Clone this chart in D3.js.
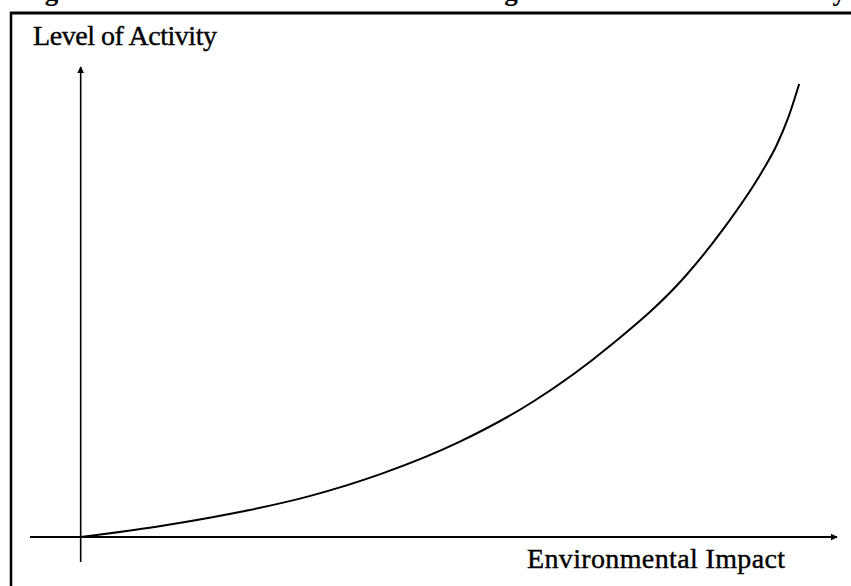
<!DOCTYPE html>
<html>
<head>
<meta charset="utf-8">
<script src="https://cdn.jsdelivr.net/npm/d3@7"></script>
<style>
  body { margin: 0; background: #fff; }
  svg { display: block; }
  text { font-family: "Liberation Serif", "Times New Roman", serif; fill: #000; }
</style>
</head>
<body>
<div id="graph"></div>
<script>
// curve (arbitrary units, 0..100 on each axis)
const impact   = [0, 10, 20, 30, 40, 50, 60, 70, 80, 85, 90, 92, 93.5, 95];
const activity = [0, 2.2, 5.0, 8.6, 13.6, 20.2, 29.0, 40.7, 55.6, 65.6, 77.5, 83.3, 89.0, 96.4];

const xLabel = "Environmental Impact";
const yLabel = "Level of Activity";
const title = "Figure 1: The Environmental Rating of the Level of Activity";

const w = 851;
const h = 586;

const svg = d3
  .select("#graph")
  .append("svg")
  .attr("width", w)
  .attr("height", h);

// axes run a little past the origin, like the hand-drawn figure
const x = d3.scaleLinear().domain([-6.7, 100]).range([30, 837]);
const y = d3.scaleLinear().domain([-5.3, 100]).range([562, 67]);

// title, cut off at the top of the crop (only the descenders show)
svg
  .append("text")
  .attr("x", 16)
  .attr("y", 0)
  .attr("font-size", 27)
  .attr("font-weight", "bold")
  .attr("textLength", 830)
  .text(title);

// frame (top and left only)
svg
  .append("line")
  .attr("x1", 10)
  .attr("x2", w)
  .attr("y1", 13)
  .attr("y2", 13)
  .attr("stroke", "#000")
  .attr("stroke-width", 3);
svg
  .append("line")
  .attr("x1", 11)
  .attr("x2", 11)
  .attr("y1", 12)
  .attr("y2", h)
  .attr("stroke", "#000")
  .attr("stroke-width", 2.5);

svg
  .append("defs")
  .append("marker")
  .attr("id", "arrow")
  .attr("viewBox", "0 0 10 10")
  .attr("refX", 9)
  .attr("refY", 5)
  .attr("markerWidth", 7)
  .attr("markerHeight", 7)
  .attr("markerUnits", "userSpaceOnUse")
  .attr("orient", "auto")
  .append("path")
  .attr("d", "M0,0 L10,5 L0,10 z")
  .attr("fill", "#000");

// x axis
svg
  .append("line")
  .attr("x1", x(-6.7))
  .attr("x2", x(100))
  .attr("y1", y(0))
  .attr("y2", y(0))
  .attr("stroke", "#000")
  .attr("stroke-width", 2)
  .attr("marker-end", "url(#arrow)");

// y axis
svg
  .append("line")
  .attr("x1", x(0))
  .attr("x2", x(0))
  .attr("y1", y(-5.3))
  .attr("y2", y(100))
  .attr("stroke", "#000")
  .attr("stroke-width", 1.6)
  .attr("marker-end", "url(#arrow)");

svg
  .append("text")
  .attr("x", 33)
  .attr("y", 45)
  .attr("font-size", 28)
  .attr("textLength", 184)
  .attr("stroke", "#000")
  .attr("stroke-width", 0.4)
  .text(yLabel);

svg
  .append("text")
  .attr("x", 527)
  .attr("y", 568)
  .attr("font-size", 28)
  .attr("textLength", 258)
  .attr("stroke", "#000")
  .attr("stroke-width", 0.4)
  .text(xLabel);

const line = d3
  .line()
  .x((d, i) => x(impact[i]))
  .y((d) => y(d))
  .curve(d3.curveMonotoneX);

svg
  .append("path")
  .attr("d", line(activity))
  .attr("fill", "none")
  .attr("stroke", "#000")
  .attr("stroke-width", 2);
</script>
</body>
</html>
